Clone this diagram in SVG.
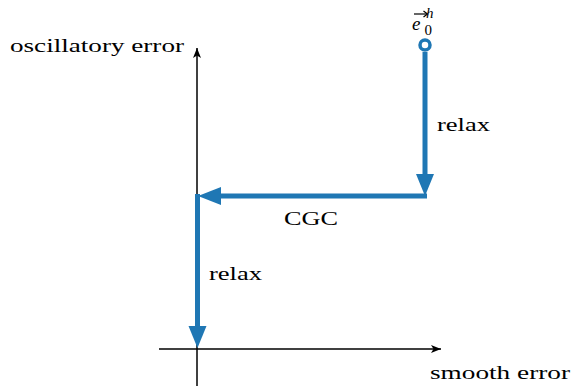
<svg xmlns="http://www.w3.org/2000/svg" width="572" height="388" viewBox="0 0 572 388" font-family="'Liberation Serif', 'Times New Roman', serif">
<defs>
<marker id="ax" viewBox="0 0 10 8" refX="10" refY="4" markerWidth="10" markerHeight="8" markerUnits="userSpaceOnUse" orient="auto"><path d="M0,0 L10,4 L0,8 L2.5,4 Z" fill="#000"/></marker>
</defs>
<style>
.axis{stroke:#000;stroke-width:1.5;fill:none}
.flow{stroke:#1f77b4;stroke-width:5;fill:none}
.head{fill:#1f77b4}
.lbl{font-family:'Liberation Serif', 'Times New Roman', serif;font-size:19px;fill:#000}
.sm{font-family:'Liberation Serif', 'Times New Roman', serif;font-size:15px;fill:#000}
</style>
<g id="axes">
<line class="axis" x1="197" y1="386" x2="197" y2="48" marker-end="url(#ax)"/>
<line class="axis" x1="159" y1="349" x2="441" y2="349" marker-end="url(#ax)"/>
<text class="lbl" x="10" y="52" textLength="174" lengthAdjust="spacingAndGlyphs">oscillatory error</text>
<text class="lbl" x="430" y="379" textLength="140" lengthAdjust="spacingAndGlyphs">smooth error</text>
</g>
<g id="start">
<circle cx="425" cy="45" r="5" fill="#fff" stroke="#1f77b4" stroke-width="3.5"/>
<text class="lbl" x="412" y="30" font-size="24" font-style="italic">e</text>
<text class="sm" x="424.5" y="35">0</text>
<text class="sm" x="426" y="18" font-style="italic">h</text>
<path d="M414,14 L427,14" stroke="#000" stroke-width="1.2"/>
<path d="M423.5,11 L427.5,14 L423.5,17" stroke="#000" stroke-width="1.2" fill="none"/>
</g>
<g id="connectors">
<line class="flow" x1="425" y1="52" x2="425" y2="178"/>
<path class="head" d="M416,174 L434,174 L425,196 Z"/>
<line class="flow" x1="427" y1="196" x2="218" y2="196"/>
<path class="head" d="M221,187 L221,205 L198,196 Z"/>
<line class="flow" x1="197.5" y1="194" x2="197.5" y2="330"/>
<path class="head" d="M188.5,326 L206.5,326 L197.5,348 Z"/>
<text class="lbl" x="437" y="131" textLength="53" lengthAdjust="spacingAndGlyphs">relax</text>
<text class="lbl" x="284" y="225" textLength="54" lengthAdjust="spacingAndGlyphs">CGC</text>
<text class="lbl" x="209" y="280" textLength="53" lengthAdjust="spacingAndGlyphs">relax</text>
</g>
</svg>
